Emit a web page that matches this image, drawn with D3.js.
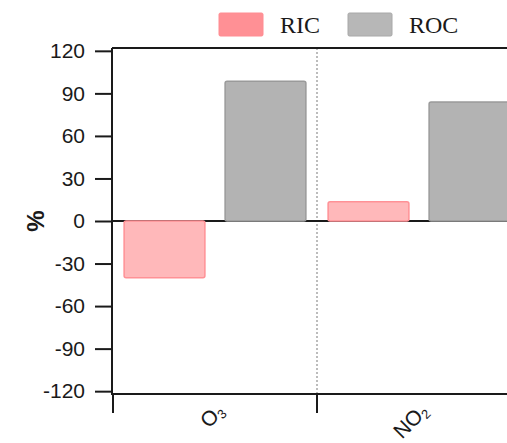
<!DOCTYPE html>
<html>
<head>
<meta charset="utf-8">
<script src="https://cdn.jsdelivr.net/npm/d3@7"></script>
<style>
  body { margin: 0; background: #fff; }
  svg { display: block; }
</style>
</head>
<body>
<div id="chart"></div>
<script>
// data
var categories = ["O3", "NO2"];
var series = ["RIC", "ROC"];
var ricValues = [-40, 13.5];
var rocValues = [98.5, 84];
var yTicks = [120, 90, 60, 30, 0, -30, -60, -90, -120];

var width = 507, height = 443;
var colors = {RIC: "#ffb8ba", ROC: "#b3b3b3"};
var strokes = {RIC: "#ff9196", ROC: "#9a9a9a"};
var legendColors = {RIC: "#ff9095", ROC: "#b7b7b7"};

var svg = d3.select("#chart")
  .append("svg")
    .attr("width", width)
    .attr("height", height);

// scales
var x = d3.scaleBand()
  .domain(categories)
  .range([113, 521]);

var xs = d3.scaleBand()
  .domain(series)
  .range([0, x.bandwidth()])
  .paddingInner(0.2)
  .paddingOuter(0.11);

var y = d3.scaleLinear()
  .domain([-122, 122])
  .range([394, 48]);

var rows = categories.map(function(c, i) {
  return {cat: c, RIC: ricValues[i], ROC: rocValues[i]};
});

// dotted separator between groups
svg.append("line")
  .attr("x1", x("NO2")).attr("x2", x("NO2"))
  .attr("y1", y(122)).attr("y2", y(-122) + 6)
  .attr("stroke", "#999")
  .attr("stroke-width", 1.3)
  .attr("stroke-dasharray", "2,2");

// zero line
svg.append("line")
  .attr("x1", 113).attr("x2", width)
  .attr("y1", y(0)).attr("y2", y(0))
  .attr("stroke", "#1a1a1a")
  .attr("stroke-width", 2);

// bars
var groups = svg.selectAll(".grp")
  .data(rows)
  .enter().append("g")
    .attr("class", "grp")
    .attr("transform", function(d){ return "translate(" + x(d.cat) + ",0)"; });

groups.selectAll("rect")
  .data(function(d){ return series.map(function(s){ return {key: s, value: d[s]}; }); })
  .enter().append("rect")
    .attr("x", function(d){ return xs(d.key); })
    .attr("y", function(d){ return y(Math.max(0, d.value)); })
    .attr("width", xs.bandwidth())
    .attr("height", function(d){ return Math.abs(y(d.value) - y(0)); })
    .attr("rx", 2)
    .attr("fill", function(d){ return colors[d.key]; })
    .attr("stroke", function(d){ return strokes[d.key]; })
    .attr("stroke-width", 1.5);

// top frame line
svg.append("line")
  .attr("x1", 112).attr("x2", width)
  .attr("y1", y(122)).attr("y2", y(122))
  .attr("stroke", "#1a1a1a")
  .attr("stroke-width", 2);

// y axis
var yAxis = svg.append("g")
  .attr("transform", "translate(112,0)")
  .attr("font-size", 21)
  .attr("font-family", "Liberation Sans, Arial, sans-serif")
  .call(d3.axisLeft(y).tickValues(yTicks).tickSize(17).tickPadding(10).tickSizeOuter(0)
    .tickFormat(function(d){ return String(d); }));
yAxis.attr("font-size", 21).attr("font-family", "Liberation Sans, Arial, sans-serif");
yAxis.select(".domain").attr("stroke", "#1a1a1a").attr("stroke-width", 2)
  .attr("d", "M0," + y(122) + "V" + (y(-122) + 1));
yAxis.selectAll(".tick line").attr("stroke", "#1a1a1a").attr("stroke-width", 2);
yAxis.selectAll(".tick text")
  .attr("fill", "#1a1a1a")
  .attr("font-size", 21);

// x axis
var xAxis = svg.append("g")
  .attr("transform", "translate(0," + y(-122) + ")");
xAxis.append("line")
  .attr("x1", 112).attr("x2", width)
  .attr("y1", 0).attr("y2", 0)
  .attr("stroke", "#1a1a1a").attr("stroke-width", 2);
xAxis.selectAll(".xtick")
  .data(categories)
  .enter().append("line")
    .attr("x1", function(d){ return x(d); })
    .attr("x2", function(d){ return x(d); })
    .attr("y1", 0).attr("y2", 19)
    .attr("stroke", "#1a1a1a").attr("stroke-width", 2);

var subs = {O3: ["O", "3"], NO2: ["NO", "2"]};
xAxis.selectAll(".xlabel")
  .data(categories)
  .enter().append("text")
    .attr("transform", function(d){
      return "translate(" + (x(d) + x.bandwidth() / 2 - 3) + ",5) rotate(-45)";
    })
    .attr("text-anchor", "end")
    .attr("dy", "0.9em")
    .attr("font-family", "Liberation Sans, Arial, sans-serif")
    .attr("font-size", 21)
    .attr("fill", "#1a1a1a")
    .each(function(d){
      var t = d3.select(this);
      t.append("tspan").text(subs[d][0]);
      t.append("tspan").text(subs[d][1])
        .attr("font-size", 13)
        .attr("dy", "0.25em");
    });

// y label
svg.append("text")
  .attr("transform", "translate(44," + y(0) + ") rotate(-90)")
  .attr("text-anchor", "middle")
  .attr("font-family", "Liberation Sans, Arial, sans-serif")
  .attr("font-size", 24)
  .attr("font-weight", "bold")
  .attr("fill", "#1a1a1a")
  .text("%");

// legend
var legend = svg.selectAll(".legend")
  .data(series)
  .enter().append("g")
    .attr("transform", function(d, i){ return "translate(" + (219 + i * 129) + ",13)"; });
legend.append("rect")
  .attr("width", 44).attr("height", 23)
  .attr("rx", 1.5)
  .attr("fill", function(d){ return legendColors[d]; })
  .attr("stroke", function(d){ return d == "RIC" ? "#ff8c92" : "#a8a8a8"; })
  .attr("stroke-width", 1);
legend.append("text")
  .attr("x", 61).attr("y", 20)
  .attr("font-family", "Liberation Serif, Times New Roman, serif")
  .attr("font-size", 24)
  .attr("fill", "#1a1a1a")
  .text(function(d){ return d; });
</script>
</body>
</html>
